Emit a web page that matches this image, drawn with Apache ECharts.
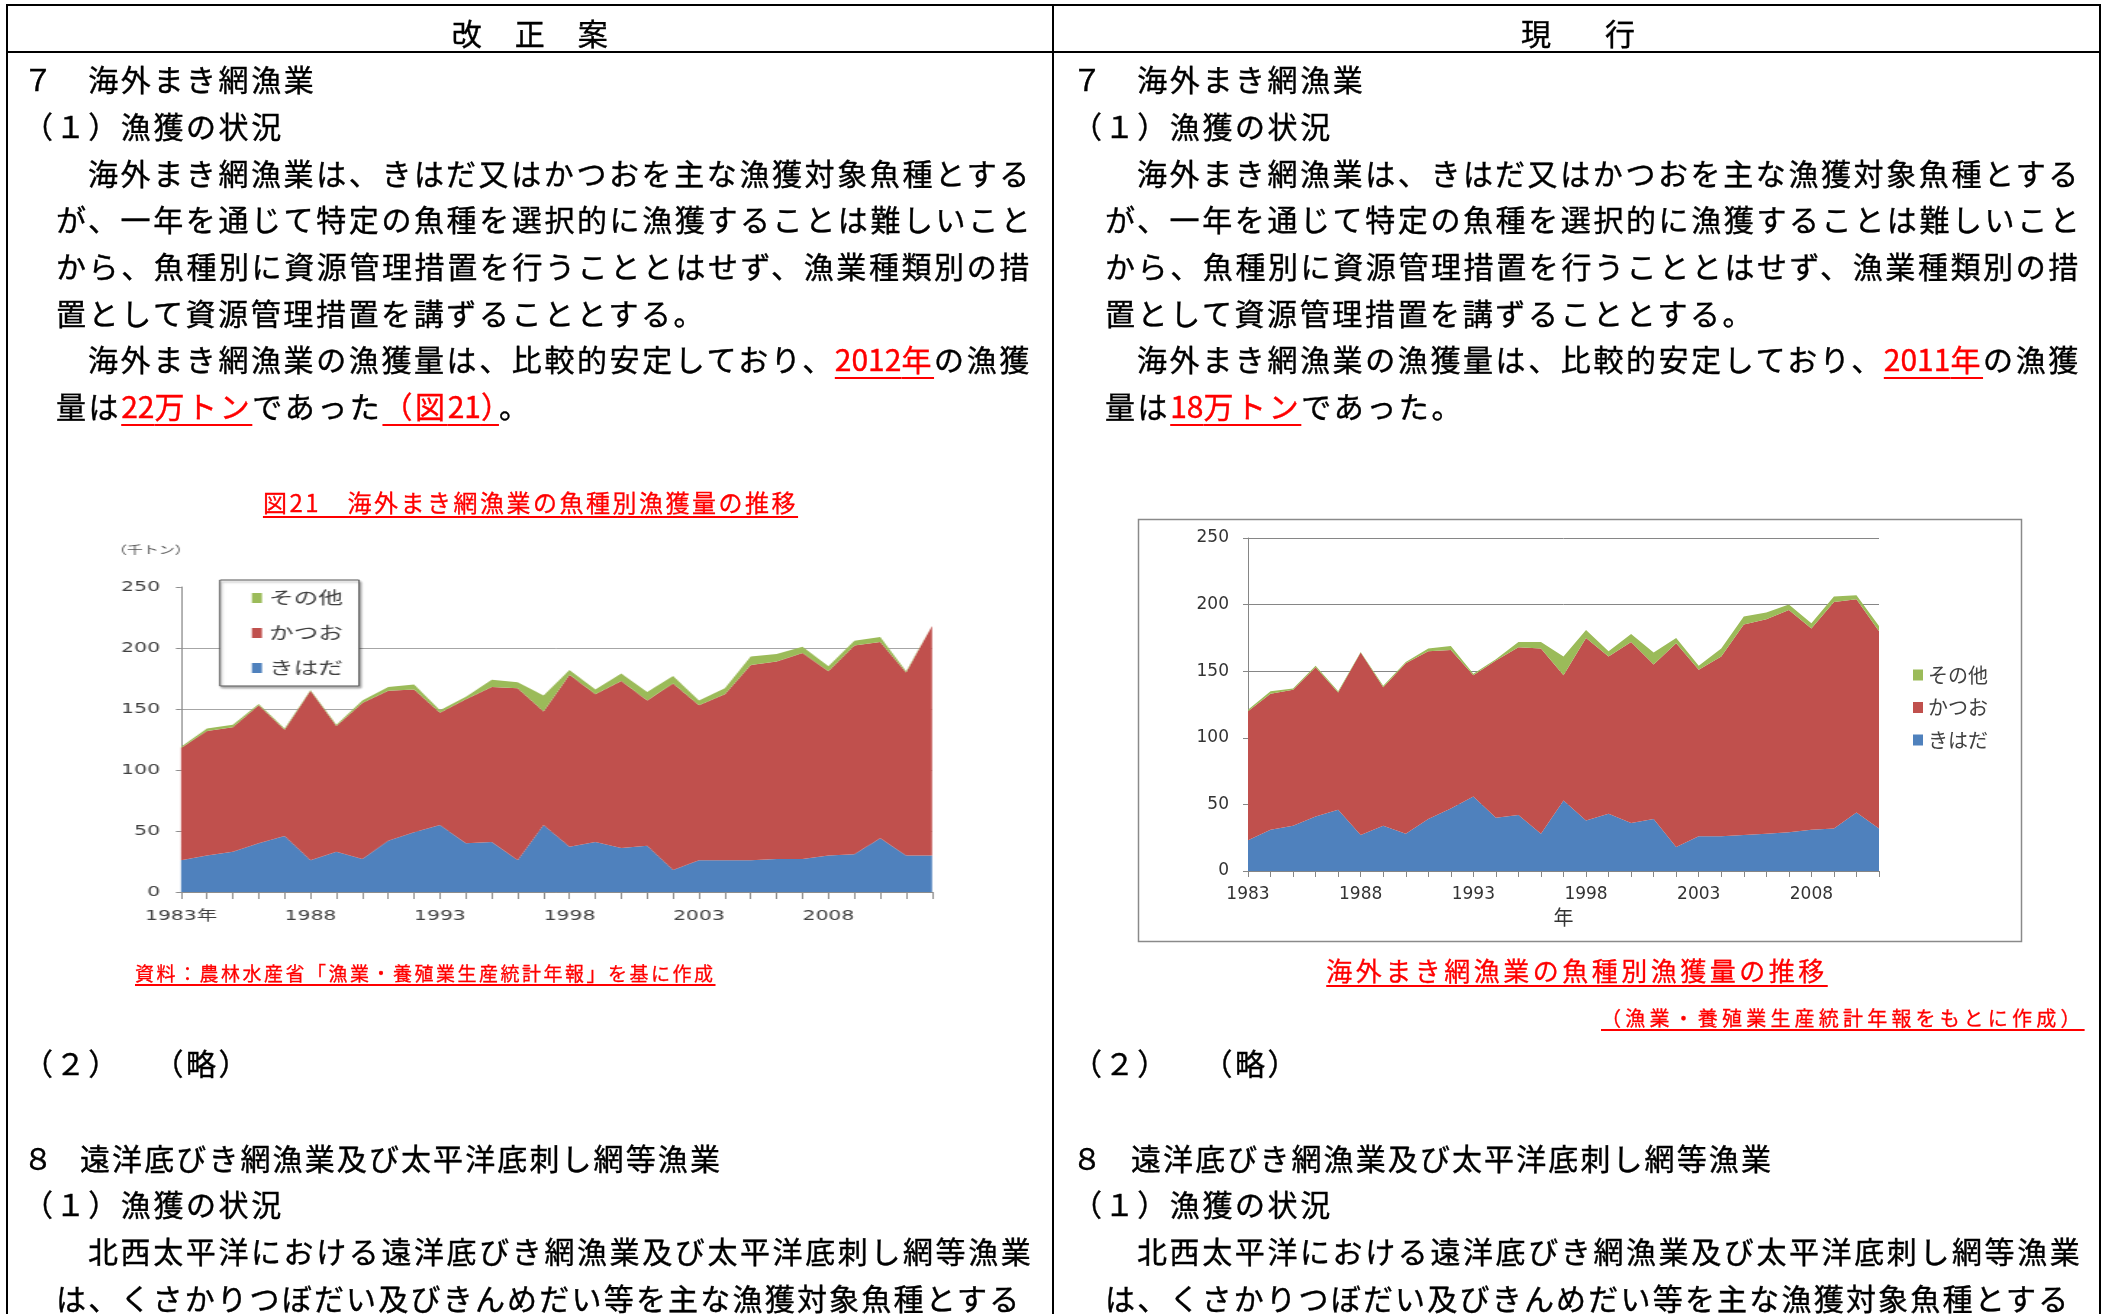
<!DOCTYPE html>
<html><head><meta charset="utf-8">
<script src="https://cdn.jsdelivr.net/npm/echarts@6/dist/echarts.min.js"></script>
<style>
html,body{margin:0;padding:0;background:#fff;}
body{width:2109px;height:1314px;position:relative;overflow:hidden;font-family:'Noto Sans CJK JP',sans-serif;color:#000;text-spacing-trim:space-all;}
#chartL{position:absolute;left:0;top:0;height:1314px;transform-origin:0 0;}
#chartR{position:absolute;left:1054px;top:0;width:1055px;height:1314px;}
.t{position:absolute;white-space:nowrap;font-size:30px;letter-spacing:2.6px;line-height:46px;height:46px;-webkit-text-stroke:0.4px #000;}
.d{letter-spacing:0px;}
.r{color:#f00;-webkit-text-stroke-color:#f00;text-decoration:underline;text-decoration-color:#f00;text-decoration-thickness:2px;text-underline-offset:6px;}
.ln{position:absolute;background:#000;}
.cap{position:absolute;white-space:nowrap;color:#f00;text-decoration:underline;text-decoration-thickness:2px;-webkit-text-stroke:0.3px #f00;}
</style></head>
<body>
<div id="chartL"></div>
<div id="chartR"></div>

<div class="ln" style="left:6px;top:4px;width:2095px;height:2px"></div>
<div class="ln" style="left:6px;top:51px;width:2095px;height:2px"></div>
<div class="ln" style="left:6px;top:4px;width:2px;height:1310px"></div>
<div class="ln" style="left:1052px;top:4px;width:2px;height:1310px"></div>
<div class="ln" style="left:2099px;top:4px;width:2px;height:1310px"></div>

<div class="t" style="left:8px;width:1045px;text-align:center;top:9px;letter-spacing:1.5px">改　正　案</div>
<div class="t" style="left:1054px;width:1046px;text-align:center;top:9px;letter-spacing:-2px">現　　行</div>

<!-- left column -->
<div class="t" style="left:23px;top:55px">７　海外まき網漁業</div>
<div class="t" style="left:23px;top:102px">（１）漁獲の状況</div>
<div class="t" style="left:88px;top:149px">海外まき網漁業は、きはだ又はかつおを主な漁獲対象魚種とする</div>
<div class="t" style="left:56px;top:195px">が、一年を通じて特定の魚種を選択的に漁獲することは難しいこと</div>
<div class="t" style="left:56px;top:242px">から、魚種別に資源管理措置を行うこととはせず、漁業種類別の措</div>
<div class="t" style="left:56px;top:289px">置として資源管理措置を講ずることとする。</div>
<div class="t" style="left:88px;top:335px">海外まき網漁業の漁獲量は、比較的安定しており、<span class="r"><span class="d">2012</span>年</span>の漁獲</div>
<div class="t" style="left:56px;top:382px">量は<span class="r"><span class="d">22</span>万トン</span>であった<span class="r">（図<span class="d">21</span><span style="letter-spacing:-12px">）</span></span>。</div>

<div class="cap" style="left:8px;width:1045px;text-align:center;top:486px;font-size:24px;line-height:32px;letter-spacing:2.5px;text-decoration:none"><span style="text-decoration:underline;text-decoration-color:#f00;text-decoration-thickness:2px;text-underline-offset:4px">図21　海外まき網漁業の魚種別漁獲量の推移</span></div>
<div class="cap" style="left:135px;top:959px;font-size:19px;line-height:28px;letter-spacing:2.5px;text-underline-offset:3px">資料：農林水産省「漁業・養殖業生産統計年報」を基に作成</div>

<div class="t" style="left:23px;top:1039px">（２）　（略）</div>
<div class="t" style="left:23px;top:1134px">８</div>
<div class="t" style="left:80px;top:1134px;letter-spacing:2.1px">遠洋底びき網漁業及び太平洋底刺し網等漁業</div>
<div class="t" style="left:23px;top:1180px">（１）漁獲の状況</div>
<div class="t" style="left:88px;top:1227px">北西太平洋における遠洋底びき網漁業及び太平洋底刺し網等漁業</div>
<div class="t" style="left:56px;top:1274px;letter-spacing:2.2px">は、くさかりつぼだい及びきんめだい等を主な漁獲対象魚種とする</div>

<!-- right column -->
<div class="t" style="left:1072px;top:55px">７　海外まき網漁業</div>
<div class="t" style="left:1072px;top:102px">（１）漁獲の状況</div>
<div class="t" style="left:1137px;top:149px">海外まき網漁業は、きはだ又はかつおを主な漁獲対象魚種とする</div>
<div class="t" style="left:1105px;top:195px">が、一年を通じて特定の魚種を選択的に漁獲することは難しいこと</div>
<div class="t" style="left:1105px;top:242px">から、魚種別に資源管理措置を行うこととはせず、漁業種類別の措</div>
<div class="t" style="left:1105px;top:289px">置として資源管理措置を講ずることとする。</div>
<div class="t" style="left:1137px;top:335px">海外まき網漁業の漁獲量は、比較的安定しており、<span class="r"><span class="d">2011</span>年</span>の漁獲</div>
<div class="t" style="left:1105px;top:382px">量は<span class="r"><span class="d">18</span>万トン</span>であった。</div>

<div class="cap" style="left:1054px;width:1046px;text-align:center;top:953px;font-size:26px;line-height:34px;letter-spacing:3.5px;text-decoration:none"><span style="text-decoration:underline;text-decoration-color:#f00;text-decoration-thickness:2px;text-underline-offset:4px">海外まき網漁業の魚種別漁獲量の推移</span></div>
<div class="cap" style="left:1601px;top:1004px;font-size:20px;line-height:28px;letter-spacing:4.2px;text-underline-offset:3px">（漁業・養殖業生産統計年報をもとに作成）</div>

<div class="t" style="left:1072px;top:1039px">（２）　（略）</div>
<div class="t" style="left:1072px;top:1134px">８</div>
<div class="t" style="left:1131px;top:1134px;letter-spacing:2.1px">遠洋底びき網漁業及び太平洋底刺し網等漁業</div>
<div class="t" style="left:1072px;top:1180px">（１）漁獲の状況</div>
<div class="t" style="left:1137px;top:1227px">北西太平洋における遠洋底びき網漁業及び太平洋底刺し網等漁業</div>
<div class="t" style="left:1105px;top:1274px;letter-spacing:2.2px">は、くさかりつぼだい及びきんめだい等を主な漁獲対象魚種とする</div>

<script>
// ---- data (千トン) ----
const yearsLeft = ['1983','1984','1985','1986','1987','1988','1989','1990','1991','1992','1993','1994','1995','1996','1997','1998','1999','2000','2001','2002','2003','2004','2005','2006','2007','2008','2009','2010','2011','2012'];
const kihadaLeft = [26,30,33,40,46,26,33,27,42,49,55,40,41,26,55,37,41,36,38,18,26,26,26,27,27,30,31,44,30,30];
const katsuoLeft = [92,102,102,113,87,139,103,128,123,117,92,118,127,141,93,141,121,137,119,153,127,136,160,162,169,151,171,161,150,188];
const sonotaLeft = [1,2,2,1,1,0.5,1,2,3,4,2,2,6,5,13,4,4,6,7,6,4,5,7,6,5,4,4,4,1,1];

const yearsRight = ['1983','1984','1985','1986','1987','1988','1989','1990','1991','1992','1993','1994','1995','1996','1997','1998','1999','2000','2001','2002','2003','2004','2005','2006','2007','2008','2009','2010','2011'];
const kihadaRight = [23,31,34,41,46,27,34,28,39,47,56,40,42,28,53,38,43,36,39,18,26,26,27,28,29,31,32,44,32];
const katsuoRight = [97,102,102,112,88,137,104,128,126,119,91,118,126,139,94,137,118,136,116,153,125,135,158,161,167,151,170,160,148];
const sonotaRight = [1,2,1,1,1,0.5,1,1,2,3,1,1,4,5,14,6,4,6,9,4,3,6,6,5,4,4,4,3,4];

const seriesNames = ['きはだ','かつお','その他'];
const legendOrder = ['その他','かつお','きはだ'];
const yTicks = {min:0, max:250, interval:50};
const unitLabel = '（千トン）';

const COLORS = ['#4F81BD','#C0504D','#9BBB59'];
const NUM_FONT = "'DejaVu Sans','Noto Sans CJK JP'";
const JP_FONT = "'Noto Sans CJK JP'";

function areaSeries(name, data, stack, color){
  return {name, type:'line', data, stack,
    showSymbol:false, symbol:'none', lineStyle:{width:0}, areaStyle:{color, opacity:1},
    itemStyle:{color}, z:2};
}

// Left chart: the original picture is stretched horizontally, so this chart is drawn narrow and widened by CSS.
const S = 1.45;
const elL = document.getElementById('chartL');
elL.style.width = (1053 / S) + 'px';
elL.style.transform = 'scaleX(' + S + ')';
const chartL = echarts.init(elL);
chartL.setOption({
  animation:false,
  grid:{left:181/S, top:587, width:751/S, height:305},
  xAxis:{type:'category', data:yearsLeft, boundaryGap:false,
     axisLine:{lineStyle:{color:'#8c8c8c'}},
     axisTick:{interval:0, length:7, lineStyle:{color:'#8c8c8c'}},
     axisLabel:{interval:4, formatter:(v,i)=> i===0 ? v+'年' : v, color:'#404040', fontSize:14, margin:17, fontFamily:NUM_FONT},
     splitLine:{show:false}},
  yAxis:{type:'value', min:yTicks.min, max:yTicks.max, interval:yTicks.interval,
     axisLine:{show:true, lineStyle:{color:'#8c8c8c'}},
     axisTick:{show:true, length:3.5, lineStyle:{color:'#8c8c8c'}},
     axisLabel:{color:'#404040', fontSize:14, margin:14.5, fontFamily:NUM_FONT},
     splitLine:{show:true, lineStyle:{color:['#a6a6a6','#a6a6a6','#a6a6a6','#a6a6a6','#a6a6a6','rgba(0,0,0,0)'], width:1}}},
  legend:{data:legendOrder, orient:'vertical', left:220/S, top:580, icon:'rect', itemWidth:10/S, itemHeight:10, itemGap:18,
     padding:[9.5, 11, 9.5, 22], borderColor:'#555', borderWidth:1, backgroundColor:'#fff',
     shadowColor:'rgba(0,0,0,0.3)', shadowBlur:2, shadowOffsetX:1, shadowOffsetY:2,
     selectedMode:false, textStyle:{fontSize:17, color:'#404040', fontFamily:JP_FONT}},
  graphic:[
    {type:'text', left:111/S, top:544, style:{text:unitLabel, fill:'#555', font:"11px 'Noto Sans CJK JP'"}}
  ],
  series:[
    areaSeries(seriesNames[0], kihadaLeft, 'L', COLORS[0]),
    areaSeries(seriesNames[1], katsuoLeft, 'L', COLORS[1]),
    areaSeries(seriesNames[2], sonotaLeft, 'L', COLORS[2])
  ]
});

// Right chart (page x offset 1054)
const OX = 1054;
const chartR = echarts.init(document.getElementById('chartR'));
chartR.setOption({
  animation:false,
  grid:{left:1248-OX, top:538, width:631, height:333},
  xAxis:{type:'category', data:yearsRight, boundaryGap:false,
     axisLine:{lineStyle:{color:'#868686'}},
     axisTick:{interval:0, length:6, lineStyle:{color:'#868686'}},
     axisLabel:{interval:4, color:'#333', fontSize:17, margin:15, fontFamily:NUM_FONT},
     name:'年', nameLocation:'middle', nameGap:36,
     nameTextStyle:{fontSize:20, color:'#333', fontFamily:JP_FONT},
     splitLine:{show:false}},
  yAxis:{type:'value', min:yTicks.min, max:yTicks.max, interval:yTicks.interval,
     axisLine:{show:true, lineStyle:{color:'#868686'}},
     axisTick:{show:true, length:5, lineStyle:{color:'#868686'}},
     axisLabel:{color:'#333', fontSize:17, margin:19, fontFamily:NUM_FONT},
     splitLine:{show:true, lineStyle:{color:'#868686', width:1}}},
  legend:{data:legendOrder, orient:'vertical', left:1913-OX, top:665, icon:'rect', itemWidth:10, itemHeight:11, itemGap:12.5,
     padding:0, selectedMode:false, textStyle:{fontSize:20, color:'#404040', fontFamily:JP_FONT}},
  graphic:[
    {type:'rect', left:1136-OX, top:517, shape:{width:883, height:422}, style:{fill:'none', stroke:'#8a8a8a', lineWidth:1.5}, z:-1}
  ],
  series:[
    areaSeries(seriesNames[0], kihadaRight, 'R', COLORS[0]),
    areaSeries(seriesNames[1], katsuoRight, 'R', COLORS[1]),
    areaSeries(seriesNames[2], sonotaRight, 'R', COLORS[2])
  ]
});
</script>
</body></html>
